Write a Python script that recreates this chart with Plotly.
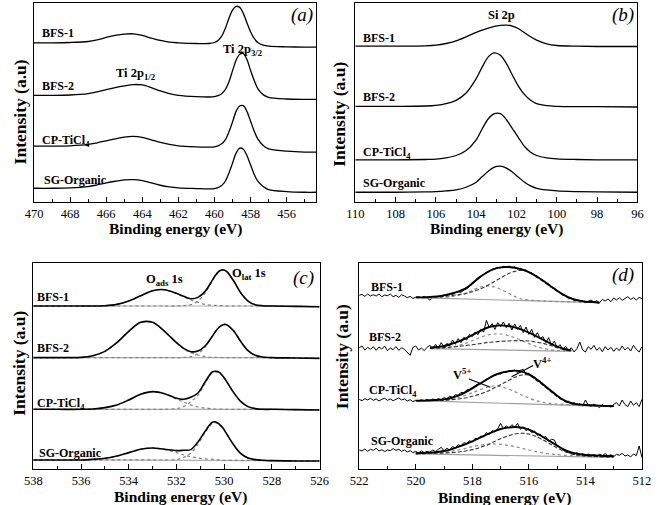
import plotly.graph_objects as go

W, H = 661, 505
SERIF = "Liberation Serif, Times New Roman, serif"

# ---------------- panel (a): Ti 2p ----------------
XA = [470, 469, 468, 467, 466.5, 466, 465.5, 465, 464.5, 464, 463.5, 463, 462.5, 462, 461, 460.3,
      460, 459.8, 459.6, 459.4, 459.2, 459.0, 458.8, 458.6, 458.4, 458.2, 458.0, 457.8, 457.6,
      457.3, 457, 456, 455, 454.35]
A_BFS1 = [477, 477, 478, 481, 486, 493, 499, 503, 504, 499, 491, 484, 479, 477, 475, 475,
          478, 484, 497, 520, 550, 575, 586, 583, 565, 537, 510, 490, 478,
          470, 467, 465, 464, 464]
A_BFS2 = [320, 320, 321, 325, 330, 337, 343, 348, 352, 351, 343, 333, 325, 320, 316, 315,
          316, 319, 325, 337, 360, 393, 425, 443, 445, 427, 395, 365, 340,
          322, 314, 309, 308, 308]
A_CP = [168, 168, 169, 173, 178, 184, 190, 195, 197, 194, 187, 179, 173, 169, 166, 165,
        166, 169, 175, 187, 210, 240, 272, 288, 289, 272, 243, 213, 190,
        170, 160, 153, 150, 150]
A_SG = [42, 42, 43, 47, 52, 58, 63, 67, 68, 65, 58, 51, 46, 43, 41, 40,
        41, 44, 50, 63, 87, 117, 147, 162, 159, 140, 112, 84, 63,
        47, 38, 32, 30, 30]

# ---------------- panel (b): Si 2p ----------------
XB = [110, 108, 106.5, 106, 105.5, 105, 104.5, 104, 103.7, 103.4, 103.1, 102.8, 102.5, 102.2,
      101.9, 101.6, 101.3, 101, 100.5, 100, 99, 98, 96]
B_BFS1 = [467, 467, 468, 470, 475, 483, 495, 508, 515, 521, 526, 529, 530, 527, 519, 507, 495,
          485, 474, 469, 467, 466, 466]
B_BFS2 = [287, 287, 288, 290, 295, 305, 327, 370, 405, 435, 447, 440, 415, 380, 347, 322, 305,
          295, 289, 287, 286, 286, 285]
B_CP = [127, 127, 128, 129, 133, 140, 155, 187, 220, 250, 265, 265, 247, 220, 193, 167, 150,
        140, 133, 130, 128, 127, 127]
B_SG = [30, 30, 31, 32, 34, 37, 45, 60, 77, 93, 105, 108, 102, 90, 75, 60, 49, 42, 37, 34, 32,
        31, 30]

# ---------------- panel (c): O 1s ----------------
XC = [538, 537, 536, 535.5, 535, 534.5, 534, 533.5, 533, 532.5, 532, 531.7, 531.4, 531.1, 530.8,
      530.5, 530.35, 530.2, 530.05, 529.9, 529.6, 529.3, 529, 528.7, 528.4, 528, 527, 526]
C_BFS1 = [490, 490, 490, 490, 491, 495, 505, 521, 536, 539, 528, 519, 512, 516, 534,
          567, 584, 595, 599, 594, 565, 529, 505, 494, 491, 490, 489, 488]
C_BFS1_ADS = [490, 490, 490, 490, 491, 495, 505, 521, 536, 539, 528, 518, 508, 501, 495,
              492, 492, 491, 491, 490, 490, 490, 490, 490, 490, 490, 489, 488]
C_BFS1_LAT = [490, 490, 490, 490, 490, 490, 490, 490, 490, 490, 490, 491, 494, 505, 529,
              565, 582, 594, 598, 594, 565, 529, 505, 494, 491, 490, 489, 488]
C_BFS2 = [335, 335, 336, 341, 354, 380, 414, 441, 441, 414, 380, 363, 353, 355, 370,
          399, 415, 427, 434, 434, 415, 383, 356, 342, 337, 335, 334, 333]
C_BFS2_ADS = [335, 335, 336, 341, 354, 380, 414, 441, 441, 414, 380, 362, 350, 343, 338,
              336, 336, 335, 335, 335, 335, 335, 335, 335, 335, 335, 334, 333]
C_BFS2_LAT = [335, 335, 335, 335, 335, 335, 335, 335, 335, 335, 335, 336, 338, 347, 367,
              398, 414, 427, 434, 434, 415, 383, 356, 342, 337, 335, 334, 333]
C_CP = [180, 180, 180, 181, 185, 193, 208, 225, 233, 227, 213, 210, 216, 229, 262,
        292, 294, 291, 279, 264, 230, 203, 188, 182, 180, 180, 179, 178]
C_CP_ADS = [180, 180, 180, 181, 185, 193, 208, 225, 233, 227, 211, 202, 193, 187, 184,
            182, 181, 181, 180, 180, 180, 180, 180, 180, 180, 180, 179, 178]
C_CP_LAT = [180, 180, 180, 180, 180, 180, 180, 180, 180, 180, 182, 188, 203, 222, 258,
            290, 293, 290, 279, 264, 230, 203, 188, 182, 180, 180, 179, 178]
C_SG = [28, 28, 28, 30, 33, 40, 50, 60, 64, 60, 56, 57, 59, 82, 114,
        141, 142, 135, 124, 107, 73, 47, 34, 29, 27, 26, 25, 25]
C_SG_ADS = [28, 28, 28, 30, 33, 40, 50, 60, 64, 60, 50, 43, 38, 34, 31,
            30, 29, 28, 27, 27, 27, 27, 27, 27, 27, 26, 25, 25]
C_SG_LAT = [28, 28, 28, 28, 28, 28, 28, 28, 28, 28, 29, 36, 48, 75, 110,
            138, 140, 134, 123, 107, 73, 47, 34, 29, 27, 26, 25, 25]
XC_BASE = [536, 528]
C_BASES = [[490, 490], [335, 335], [180, 180], [28, 26]]

# ---------------- panel (d): V 2p ----------------
XD_RAW = [522.0, 521.9, 521.8, 521.7, 521.6, 521.5, 521.4, 521.3, 521.2, 521.1,
          521.0, 520.9, 520.8, 520.7, 520.6, 520.5, 520.4, 520.3, 520.2, 520.1,
          520.0, 519.9, 519.8, 519.7, 519.6, 519.5, 519.4, 519.3, 519.2, 519.1,
          519.0, 518.9, 518.8, 518.7, 518.6, 518.5, 518.4, 518.3, 518.2, 518.1,
          518.0, 517.9, 517.8, 517.7, 517.6, 517.5, 517.4, 517.3, 517.2, 517.1,
          517.0, 516.9, 516.8, 516.7, 516.6, 516.5, 516.4, 516.3, 516.2, 516.1,
          516.0, 515.9, 515.8, 515.7, 515.6, 515.5, 515.4, 515.3, 515.2, 515.1,
          515.0, 514.9, 514.8, 514.7, 514.6, 514.5, 514.4, 514.3, 514.2, 514.1,
          514.0, 513.9, 513.8, 513.7, 513.6, 513.5, 513.4, 513.3, 513.2, 513.1,
          513.0, 512.9, 512.8, 512.7, 512.6, 512.5, 512.4, 512.3, 512.2, 512.1,
          512.0]
D_BFS1_RAW = [522, 525, 519, 526, 520, 524, 520, 526, 518, 523,
              521, 526, 518, 522, 516, 524, 520, 515, 519, 513,
              516, 518, 515, 519, 514, 508, 515, 519, 516, 521,
              523, 520, 527, 524, 530, 533, 531, 538, 542, 549,
              556, 563, 570, 578, 583, 591, 594, 600, 601, 606,
              604, 609, 606, 610, 604, 608, 601, 603, 597, 598,
              590, 590, 582, 580, 571, 569, 560, 556, 546, 544,
              535, 530, 522, 520, 512, 514, 506, 508, 502, 506,
              500, 504, 508, 502, 506, 500, 510, 505, 511, 503,
              514, 508, 515, 507, 512, 518, 510, 515, 508, 516,
              512]
D_BFS2_RAW = [365, 370, 358, 366, 360, 368, 357, 367, 361, 370,
              356, 364, 359, 368, 357, 365, 360, 352, 342, 366,
              370, 358, 364, 356, 366, 372, 361, 375, 364, 380,
              366, 378, 370, 388, 375, 392, 380, 396, 388, 405,
              398, 412, 404, 420, 412, 447, 425, 437, 420, 440,
              428, 442, 425, 438, 418, 436, 420, 432, 410, 427,
              405, 420, 396, 410, 392, 398, 380, 395, 372, 385,
              365, 374, 360, 369, 356, 365, 352, 362, 382, 358,
              352, 368, 360, 372, 357, 365, 353, 368, 358, 366,
              354, 364, 356, 370, 358, 366, 355, 372, 360, 352,
              368]
D_CP_RAW = [210, 206, 212, 208, 213, 207, 211, 205, 210, 213,
            207, 211, 206, 210, 214, 208, 211, 205, 209, 203,
            207, 205, 209, 206, 210, 205, 211, 208, 212, 209,
            215, 212, 219, 216, 224, 222, 231, 229, 238, 240,
            246, 250, 256, 257, 265, 270, 272, 280, 282, 288,
            286, 293, 290, 296, 293, 298, 290, 297, 300, 287,
            288, 278, 277, 266, 265, 252, 250, 240, 236, 228,
            222, 214, 210, 202, 205, 196, 200, 192, 197, 190,
            208, 193, 188, 196, 190, 185, 194, 188, 192, 186,
            195, 200, 190, 208, 194, 188, 205, 192, 200, 188,
            210]
D_SG_RAW = [58, 55, 61, 54, 60, 57, 63, 55, 59, 53,
            58, 56, 62, 57, 60, 54, 58, 52, 56, 50,
            54, 49, 55, 50, 54, 51, 58, 53, 60, 66,
            56, 63, 58, 68, 64, 74, 70, 80, 77, 86,
            82, 93, 90, 100, 97, 110, 104, 116, 112, 122,
            138, 122, 130, 124, 134, 126, 138, 120, 128, 116,
            122, 110, 115, 102, 106, 95, 98, 84, 90, 88,
            70, 68, 58, 56, 50, 48, 44, 50, 43, 47,
            41, 46, 40, 44, 39, 45, 41, 47, 40, 44,
            38, 45, 42, 48, 40, 43, 37, 46, 41, 70,
            35]

XD_FIT = [520.0, 519.75, 519.5, 519.25, 519.0, 518.75, 518.5, 518.25, 518.0, 517.75,
          517.5, 517.25, 517.0, 516.75, 516.5, 516.25, 516.0, 515.75, 515.5, 515.25,
          515.0, 514.75, 514.5, 514.25, 514.0, 513.75, 513.5, 513.25, 513.0]
D_BFS1_ENV = [516, 516, 517, 519, 522, 527, 533, 542, 558, 576, 590, 601, 606, 607, 605, 600,
              592, 580, 566, 551, 536, 523, 513, 507, 503, 502, 500, None, None]
D_BFS1_V5 = [515, 514, 515, 515, 516, 518, 522, 528, 537, 546, 550, 548, 540, 530, 519, 511,
             508, 506, 505, 504, 503, 503, 502, 502, 501, 501, 500, None, None]
D_BFS1_V4 = [516, 516, 516, 517, 519, 521, 524, 527, 533, 540, 550, 562, 574, 586, 594, 597,
             591, 578, 564, 549, 534, 521, 512, 507, 503, 502, 500, None, None]
D_BFS2_ENV = [None, None, 365, 367, 370, 376, 383, 392, 403, 414, 424, 430, 432, 430, 426,
              419, 410, 400, 389, 378, 368, 361, 357, None, None, None, None, None, None]
D_BFS2_V5 = [None, None, 362, 362, 363, 366, 371, 378, 386, 395, 402, 406, 406, 402, 395,
             386, 377, 369, 363, 359, 357, 356, 355, None, None, None, None, None, None]
D_BFS2_V4 = [None, None, 363, 364, 365, 367, 369, 371, 374, 377, 380, 382, 384, 385, 386,
             386, 385, 382, 378, 372, 365, 359, 355, None, None, None, None, None, None]
D_CP_ENV = [206, 206, 207, 208, 210, 214, 221, 231, 243, 256, 269, 281, 289, 294, 296, 293,
            285, 272, 255, 238, 221, 207, 199, 195, 193, 192, 191, 190, 190]
D_CP_V5 = [206, 206, 206, 207, 208, 210, 215, 222, 230, 238, 246, 250, 248, 242, 233, 223,
           214, 206, 201, 198, 196, 195, 194, 193, 192, 191, 191, 190, 189]
D_CP_V4 = [206, 206, 206, 207, 207, 209, 211, 214, 219, 225, 233, 243, 254, 265, 276, 283,
           283, 268, 252, 235, 218, 205, 197, 194, 192, 191, 191, 190, 189]
D_SG_ENV = [48, 49, 50, 52, 55, 60, 67, 75, 84, 94, 104, 113, 121, 125, 127, 125,
            119, 109, 97, 84, 71, 59, 51, 46, 43, 42, 41, 40, 40]
D_SG_V5 = [47, 47, 48, 49, 51, 54, 58, 63, 68, 72, 75, 76, 75, 72, 68, 63,
           58, 53, 49, 46, 44, 42, 41, 40, 39, 38, 38, 37, 37]
D_SG_V4 = [47, 47, 48, 48, 49, 50, 52, 55, 59, 65, 72, 82, 92, 100, 106, 108,
           106, 99, 88, 76, 64, 54, 47, 42, 40, 39, 38, 37, 37]
D_BASE_X = [[520, 513.5], [519.5, 514.5], [520, 513], [520, 513]]
D_BASE_Y = [[515, 500], [362, 354], [206, 188], [46, 36]]

SAMPLES = ["BFS-1", "BFS-2", "CP-TiCl<sub>4</sub>", "SG-Organic"]

# ---------------- figure ----------------
fig = go.Figure()


def line(x, y, ax, color="black", width=1.3, dash="solid", shape="spline"):
    fig.add_trace(go.Scatter(
        x=x, y=y, mode="lines", xaxis="x" + ax, yaxis="y" + ax,
        line=dict(color=color, width=width, dash=dash, shape=shape, smoothing=0.9),
        showlegend=False, hoverinfo="skip", connectgaps=False))


# (a)
for ys in (A_BFS1, A_BFS2, A_CP, A_SG):
    line(XA, ys, "", width=1.3)
# (b)
for ys in (B_BFS1, B_BFS2, B_CP, B_SG):
    line(XB, ys, "2", width=1.3)
# (c)
for i, (env, ads, lat) in enumerate([(C_BFS1, C_BFS1_ADS, C_BFS1_LAT),
                                    (C_BFS2, C_BFS2_ADS, C_BFS2_LAT),
                                    (C_CP, C_CP_ADS, C_CP_LAT),
                                    (C_SG, C_SG_ADS, C_SG_LAT)]):
    line(XC_BASE, C_BASES[i], "3", color="#b0b0b0", width=1.2, shape="linear")
    line(XC, ads, "3", color="#808080", width=1.2, dash="dot")
    line(XC, lat, "3", color="#808080", width=1.2, dash="dot")
    line(XC, env, "3", color="black", width=1.6)
# (d)
for i, (raw, env, v5, v4) in enumerate([(D_BFS1_RAW, D_BFS1_ENV, D_BFS1_V5, D_BFS1_V4),
                                       (D_BFS2_RAW, D_BFS2_ENV, D_BFS2_V5, D_BFS2_V4),
                                       (D_CP_RAW, D_CP_ENV, D_CP_V5, D_CP_V4),
                                       (D_SG_RAW, D_SG_ENV, D_SG_V5, D_SG_V4)]):
    line(XD_RAW, raw, "4", color="black", width=1.0, shape="linear")
    line(D_BASE_X[i], D_BASE_Y[i], "4", color="#a0a0a0", width=1.2, shape="linear")
    line(XD_FIT, v5, "4", color="#8a8a8a", width=1.2, dash="dot")
    line(XD_FIT, v4, "4", color="#333333", width=1.1, dash="4px,2px")
    line(XD_FIT, env, "4", color="black", width=1.9)


def px(xp):
    return xp / W


def py(yp):
    return 1 - yp / H


tickfont = dict(family=SERIF, size=12.5, color="black")


def xaxis(x0, x1, y_anchor, rng):
    return dict(domain=[px(x0), px(x1)], range=rng, anchor=y_anchor,
                showline=True, linecolor="black", linewidth=1.2, mirror=True,
                ticks="inside", ticklen=5, tickwidth=1.1, tickcolor="black",
                dtick=2, tick0=rng[0],
                minor=dict(dtick=1, ticks="inside", ticklen=3, tickwidth=1, tickcolor="black"),
                showgrid=False, zeroline=False, tickfont=tickfont)


def yaxis(y0, y1, x_anchor, rng):
    return dict(domain=[py(y1), py(y0)], range=rng, anchor=x_anchor,
                showline=True, linecolor="black", linewidth=1.2, mirror=True,
                ticks="", showticklabels=False, showgrid=False, zeroline=False)


fig.update_layout(
    width=W, height=H, margin=dict(l=0, r=0, t=0, b=0),
    paper_bgcolor="white", plot_bgcolor="white",
    xaxis=xaxis(25.7, 316.0, "y", [470, 454.35]),
    yaxis=yaxis(2.7, 202.3, "x", [0, 597]),
    xaxis2=xaxis(356.0, 646.0, "y2", [110, 96]),
    yaxis2=yaxis(2.7, 202.3, "x2", [0, 597]),
    xaxis3=xaxis(25.0, 319.3, "y3", [538, 526]),
    yaxis3=yaxis(262.7, 469.3, "x3", [0, 620]),
    xaxis4=xaxis(360.0, 650.7, "y4", [522, 512]),
    yaxis4=yaxis(262.7, 469.3, "x4", [0, 620]),
)

ann = []


def text(xp, yp, t, size=12, bold=True, italic=False, xanchor="left", angle=0):
    s = t
    if bold:
        s = "<b>" + s + "</b>"
    if italic:
        s = "<i>" + s + "</i>"
    ann.append(dict(x=px(xp), y=py(yp), xref="paper", yref="paper", text=s,
                    showarrow=False, xanchor=xanchor, yanchor="middle", textangle=angle,
                    font=dict(family=SERIF, size=size, color="black")))


# sample labels
label_pos = {
    "a": [(32, 33.3), (32, 86), (32, 141), (33.5, 180)],
    "b": [(361.7, 37.7), (361.7, 97.3), (361.7, 152.5), (362, 182.7)],
    "c": [(26.7, 296.7), (26.7, 348.3), (26.7, 404), (28.3, 452.7)],
    "d": [(370, 287.3), (368.3, 337), (368.3, 390.5), (370, 441)],
}
for k, pts in label_pos.items():
    for name, (xp, yp) in zip(SAMPLES, pts):
        text(xp, yp, name, size=12)

# panel letters
for t, (xp, yp) in zip(["(a)", "(b)", "(c)", "(d)"],
                       [(301.7, 15), (631.7, 15), (302.5, 277.5), (631.7, 275)]):
    text(xp, yp, t, size=19, bold=False, italic=True, xanchor="center")

# peak labels
text(130, 74, "Ti 2p<sub>1/2</sub>", size=12.5, xanchor="center")
text(240, 50, "Ti 2p<sub>3/2</sub>", size=12.5, xanchor="center")
text(506.7, 15, "Si 2p", size=12.5, xanchor="center")
text(160, 280, "O<sub>ads</sub> 1s", size=12.5, xanchor="center")
text(247, 274, "O<sub>lat</sub> 1s", size=12.5, xanchor="center")
text(466, 374, "V<sup>5+</sup>", size=12.5, xanchor="center")
text(548.3, 363.3, "V<sup>4+</sup>", size=12.5, xanchor="center")

# axis titles
for xp, yp in [(171.5, 229.5), (501.5, 229.5), (176, 497), (509, 497.5)]:
    text(xp, yp, "Binding energy (eV)", size=15.5, xanchor="center")
for xp, yp in [(11.7, 112), (339, 114), (10, 363), (342.5, 357)]:
    text(xp, yp, "Intensity (a.u)", size=17.5, xanchor="center", angle=-90)

# pointer lines for V5+ / V4+
ann.append(dict(x=517.36, y=246, xref="x4", yref="y4", ax=-23, ay=-9,
                axref="pixel", ayref="pixel", text="", showarrow=True, arrowhead=0,
                arrowwidth=1.1, arrowcolor="black"))
ann.append(dict(x=516.61, y=278, xref="x4", yref="y4", ax=23, ay=-12,
                axref="pixel", ayref="pixel", text="", showarrow=True, arrowhead=0,
                arrowwidth=1.1, arrowcolor="black"))

fig.update_layout(annotations=ann)

fig.write_html("out.html", config={"displayModeBar": False},
               post_script="document.body.style.margin='0';")
